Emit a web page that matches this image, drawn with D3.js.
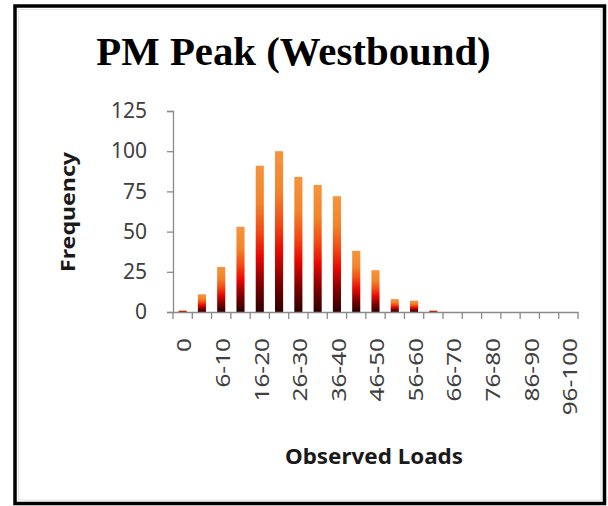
<!DOCTYPE html>
<html>
<head>
<meta charset="utf-8">
<script src="https://cdn.jsdelivr.net/npm/d3@7"></script>
<style>
  html, body { margin: 0; padding: 0; background: #fff; }
  svg { display: block; }
</style>
</head>
<body>
<svg id="chart" width="608" height="506"></svg>
<script>
// ---- data ----
const categories = ["0","1-5","6-10","11-15","16-20","21-25","26-30","31-35","36-40","41-45","46-50",
                    "51-55","56-60","61-65","66-70","71-75","76-80","81-85","86-90","91-95","96-100"];
const frequency = [1, 11, 28, 53, 91, 100, 84, 79, 72, 38, 26, 8, 7, 1, 0, 0, 0, 0, 0, 0, 0];
const yTicks = [0, 25, 50, 75, 100, 125];
const shownLabels = ["0","6-10","16-20","26-30","36-40","46-50","56-60","66-70","76-80","86-90","96-100"];
const title = "PM Peak (Westbound)";
const yTitle = "Frequency";
const xTitle = "Observed Loads";

// ---- layout ----
const svg = d3.select("#chart");
const plot = { left: 173, right: 578, top: 111, bottom: 312 };

const x = d3.scaleBand().domain(categories).range([plot.left, plot.right]).padding(0);
const y = d3.scaleLinear().domain([0, 125]).range([plot.bottom, plot.top]);

// gradient
const defs = svg.append("defs");
const grad = defs.append("linearGradient").attr("id", "barGrad")
  .attr("x1", 0).attr("y1", 1).attr("x2", 0).attr("y2", 0);
[[0, "#2e0000"], [0.18, "#7a0000"], [0.38, "#e80800"], [0.55, "#f24a14"], [0.75, "#f2852c"], [1, "#f5943c"]]
  .forEach(([o, c]) => grad.append("stop").attr("offset", o).attr("stop-color", c));

// border
svg.append("rect").attr("x", 15).attr("y", 6).attr("width", 589.5).attr("height", 497.5)
  .attr("fill", "#fff").attr("stroke", "#000").attr("stroke-width", 3.5);
svg.append("rect").attr("x", 18.5).attr("y", 9.5).attr("width", 582.5).attr("height", 490.5)
  .attr("fill", "none").attr("stroke", "#e4e4e4").attr("stroke-width", 1);

// title
svg.append("text").attr("x", 293.5).attr("y", 65).attr("text-anchor", "middle")
  .attr("font-family", "'Liberation Serif', 'Times New Roman', serif")
  .attr("font-weight", "bold").attr("font-size", 40.8).attr("fill", "#000").text(title);

// bars
const barW = x.bandwidth() * 0.42;
svg.append("g").selectAll("rect").data(categories.map((c, i) => ({ c, v: frequency[i] })))
  .join("rect")
  .attr("x", d => x(d.c) + (x.bandwidth() - barW) / 2)
  .attr("y", d => y(d.v))
  .attr("width", barW)
  .attr("height", d => y(0) - y(d.v))
  .attr("fill", "url(#barGrad)");

// y axis
const yAxis = d3.axisLeft(y).tickValues(yTicks).tickSize(6).tickPadding(20);
const gy = svg.append("g").attr("transform", `translate(${plot.left},0)`).call(yAxis);
gy.select(".domain").attr("stroke", "#8a8a8a").attr("stroke-width", 1.3);
gy.selectAll(".tick line").attr("stroke", "#8a8a8a").attr("stroke-width", 1.3);
gy.selectAll(".tick text").attr("font-family", "'Noto Sans', 'Open Sans', sans-serif")
  .attr("font-size", 21).attr("fill", "#404040");

// x axis
const xAxis = d3.axisBottom(x).tickSize(0).tickFormat("");
const gx = svg.append("g").attr("transform", `translate(0,${plot.bottom})`).call(xAxis);
gx.select(".domain").attr("stroke", "#8a8a8a").attr("stroke-width", 1.3);
gx.selectAll(".tick").remove();
// boundary tick marks
const boundaries = categories.map(c => x(c)).concat([x(categories[categories.length - 1]) + x.bandwidth()]);
gx.selectAll("line.bt").data(boundaries).join("line").attr("class", "bt")
  .attr("x1", d => d).attr("x2", d => d).attr("y1", 0).attr("y2", 7)
  .attr("stroke", "#8a8a8a").attr("stroke-width", 1.3);

// x labels (rotated)
svg.append("g").selectAll("text").data(shownLabels).join("text")
  .attr("transform", d => `translate(${x(d) + x.bandwidth() / 2 + 2},338) rotate(-90) scale(1.28,1)`)
  .attr("text-anchor", "end").attr("dy", "0.36em")
  .attr("font-family", "'Noto Sans', 'Open Sans', sans-serif")
  .attr("font-size", 19).attr("fill", "#404040").text(d => d);

// axis titles
svg.append("text").attr("transform", "translate(75,212) rotate(-90)")
  .attr("text-anchor", "middle")
  .attr("font-family", "'Noto Sans', 'Open Sans', sans-serif").attr("font-weight", "bold")
  .attr("font-size", 19).attr("textLength", 120).attr("lengthAdjust", "spacingAndGlyphs")
  .attr("fill", "#1a1a1a").text(yTitle);

svg.append("text").attr("x", 374).attr("y", 464).attr("text-anchor", "middle")
  .attr("font-family", "'Noto Sans', 'Open Sans', sans-serif").attr("font-weight", "bold")
  .attr("font-size", 22).attr("textLength", 178).attr("lengthAdjust", "spacingAndGlyphs")
  .attr("fill", "#1a1a1a").text(xTitle);
</script>
</body>
</html>
